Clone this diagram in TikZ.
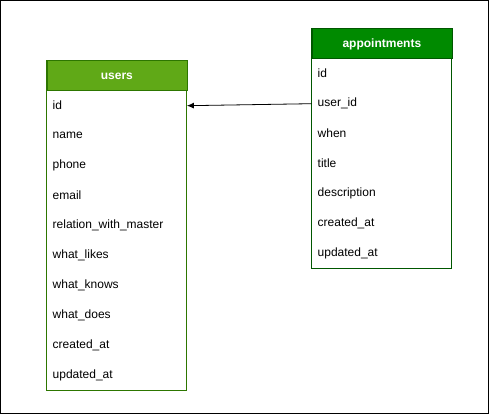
\documentclass[tikz,border=0pt]{standalone}
\usepackage{fontspec}
\setmainfont{Liberation Sans}
\usetikzlibrary{arrows.meta}
\definecolor{uhead}{HTML}{60A917}
\definecolor{uline}{HTML}{2D7600}
\definecolor{ahead}{HTML}{008A00}
\definecolor{aline}{HTML}{005700}
\begin{document}
\begin{tikzpicture}[x=1pt,y=-1pt,
  hdr/.style={draw=#1,line width=0.8pt,minimum width=140pt,minimum height=30pt,inner sep=0pt,
    text=white,font=\fontsize{12}{14}\selectfont\bfseries,anchor=north west},
  row/.style={minimum width=140pt,minimum height=30pt,inner sep=0pt,anchor=north west,
    font=\fontsize{12}{14}\selectfont,text=black},
  lbl/.style={anchor=west,font=\fontsize{12}{14}\selectfont,text=black,inner sep=0pt}]
\useasboundingbox (0,0) rectangle (489,414);
\draw[black,line width=1pt] (0.5,0.5) rectangle (488.5,413.5);
% users table
\draw[uline,line width=0.8pt,fill=white] (46.5,60.5) rectangle (186.5,390.5);
\node[hdr=uline,fill=uhead] (uh) at (46.5,60.5) {users};
\foreach \n [count=\i from 0] in {id,name,phone,email,relation\_with\_master,what\_likes,what\_knows,what\_does,created\_at,updated\_at}{
  \node[row] (u\i) at (46.5,90.5+30*\i) {};
  \node[lbl] at ([xshift=6pt]u\i.west) {\n};
}
% appointments table
\draw[aline,line width=0.8pt,fill=white] (311.5,28.5) rectangle (451.5,268.5);
\node[hdr=aline,fill=ahead] (ah) at (311.5,28.5) {appointments};
\foreach \n [count=\i from 0] in {id,user\_id,when,title,description,created\_at,updated\_at}{
  \node[row] (a\i) at (311.5,58.5+30*\i) {};
  \node[lbl] at ([xshift=6pt]a\i.west) {\n};
}
\draw[-{Latex[length=7pt,width=6pt]},black,line width=0.8pt] (a1.west) -- (u0.east);
\end{tikzpicture}
\end{document}
